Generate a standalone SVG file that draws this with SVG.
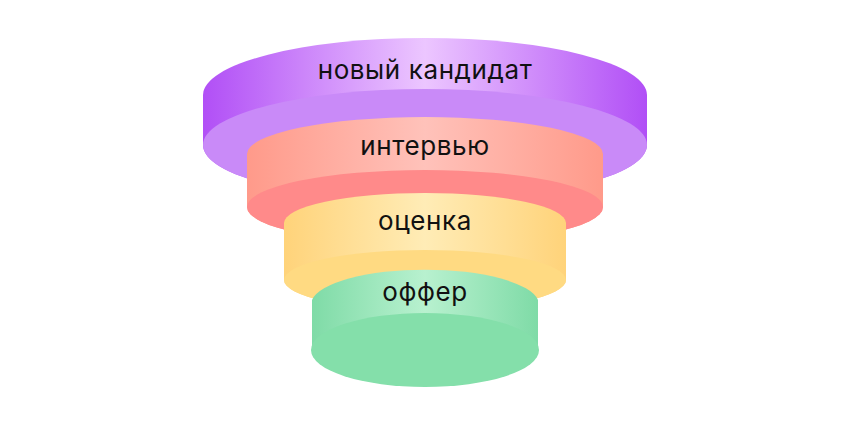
<svg xmlns="http://www.w3.org/2000/svg" width="850" height="425" viewBox="0 0 850 425">
<defs>
<linearGradient id="gp" x1="0" x2="1"><stop offset="0" stop-color="#b14ff6"/><stop offset="0.5" stop-color="#ecc6ff"/><stop offset="1" stop-color="#b14ff6"/></linearGradient>
<linearGradient id="gr" x1="0" x2="1"><stop offset="0" stop-color="#ff9a8a"/><stop offset="0.5" stop-color="#ffc2ba"/><stop offset="1" stop-color="#ff9a8a"/></linearGradient>
<linearGradient id="gy" x1="0" x2="1"><stop offset="0" stop-color="#ffd37a"/><stop offset="0.5" stop-color="#ffecb6"/><stop offset="1" stop-color="#ffd37a"/></linearGradient>
<linearGradient id="gg" x1="0" x2="1"><stop offset="0" stop-color="#7fdba7"/><stop offset="0.5" stop-color="#b8f1cf"/><stop offset="1" stop-color="#7fdba7"/></linearGradient>
</defs>
<style>text{font-family:Inter,"Noto Sans",sans-serif;font-size:26px;letter-spacing:0.6px;fill:#111;text-anchor:middle}</style>
<g id="tier1">
<path d="M203 95 A222 57 0 0 1 647 95 L647 145 A222 56 0 0 1 203 145 Z" fill="url(#gp)"/>
<ellipse cx="425" cy="145" rx="222" ry="56" fill="#c98af8"/>
<text x="425" y="79">новый кандидат</text>
</g>
<g id="tier2">
<path d="M247 154 A178 37 0 0 1 603 154 L603 207 A178 37 0 0 1 247 207 Z" fill="url(#gr)"/>
<ellipse cx="425" cy="207" rx="178" ry="37" fill="#ff8a8a"/>
<text x="425" y="155">интервью</text>
</g>
<g id="tier3">
<path d="M284 223 A141 30 0 0 1 566 223 L566 280 A141 30 0 0 1 284 280 Z" fill="url(#gy)"/>
<ellipse cx="425" cy="280" rx="141" ry="30" fill="#ffda82"/>
<text x="425" y="230">оценка</text>
</g>
<g id="tier4">
<path d="M312 300 A114 35 0 0 1 538 300 L538 350 A114 37 0 0 1 312 350 Z" fill="url(#gg)"/>
<ellipse cx="425" cy="350" rx="114" ry="37" fill="#84dfaa"/>
<text x="425" y="301">оффер</text>
</g>
<g id="connectors"/>
</svg>
